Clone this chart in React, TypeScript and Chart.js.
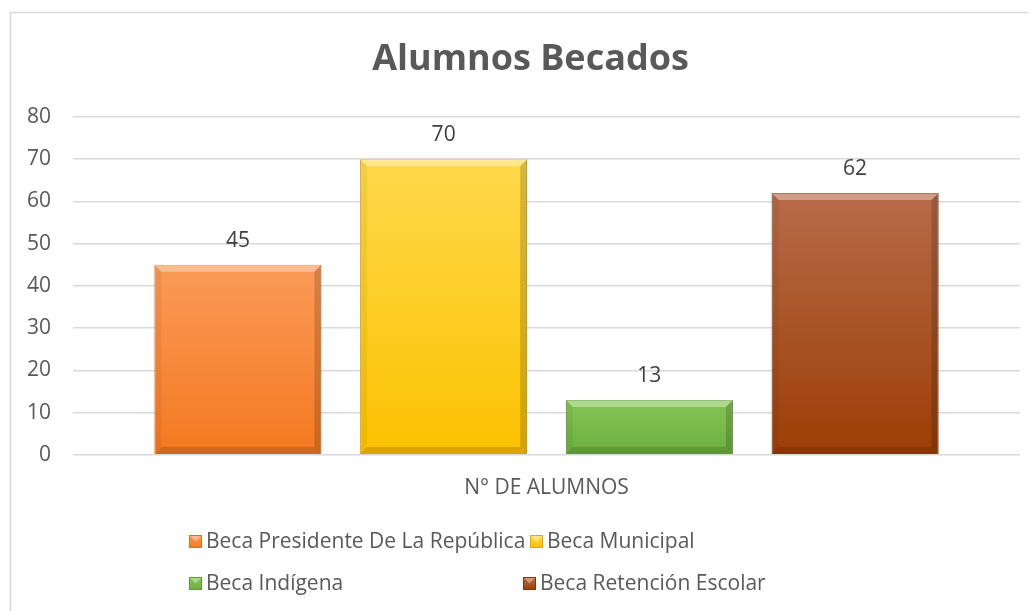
import React, { useEffect, useRef } from 'react';
import { Chart, registerables } from 'chart.js';

Chart.register(...registerables);

const chartTitle = 'Alumnos Becados';
const categories = ['N° DE ALUMNOS'];
const seriesLabels = [
  'Beca Presidente De La República',
  'Beca Municipal',
  'Beca Indígena',
  'Beca Retención Escolar',
];
const seriesValues = [45, 70, 13, 62];
const yMin = 0;
const yMax = 80;
const yStep = 10;

const topColors = ['#FB9A58', '#FFD94C', '#86C555', '#B66B48'];
const bottomColors = ['#F47920', '#FBC200', '#6CAF3E', '#9C3E06'];
const borderColors = ['#E06E1C', '#E0AA00', '#5E9A34', '#86360A'];

const FONT = '"Open Sans", "DejaVu Sans", sans-serif';

const framePlugin = {
  id: 'frame',
  beforeDraw(chart: any) {
    const ctx = chart.ctx;
    ctx.save();
    ctx.fillStyle = '#FFFFFF';
    ctx.fillRect(0, 0, chart.width, chart.height);
    ctx.strokeStyle = '#D9D9D9';
    ctx.lineWidth = 1.5;
    ctx.strokeRect(2.5, 4.5, chart.width + 100, chart.height + 100);
    ctx.restore();
  },
};

const titlePlugin = {
  id: 'customTitle',
  afterDraw(chart: any) {
    const ctx = chart.ctx;
    ctx.save();
    ctx.font = `bold 36px ${FONT}`;
    ctx.fillStyle = '#595959';
    ctx.textAlign = 'center';
    ctx.textBaseline = 'middle';
    ctx.fillText(chartTitle, 522.5, 52);
    ctx.restore();
  },
};

const bevelPlugin = {
  id: 'bevel',
  afterDatasetsDraw(chart: any) {
    const ctx = chart.ctx;
    chart.data.datasets.forEach((_ds: any, di: number) => {
      const meta = chart.getDatasetMeta(di);
      meta.data.forEach((bar: any) => {
        const props = bar.getProps(['x', 'y', 'base', 'width'], true);
        const l = props.x - props.width / 2;
        const r = props.x + props.width / 2;
        const t = Math.min(props.y, props.base);
        const b = Math.max(props.y, props.base);
        const d = Math.min(7, (b - t) / 2);
        ctx.save();
        const poly = (pts: number[][], fill: string) => {
          ctx.beginPath();
          ctx.moveTo(pts[0][0], pts[0][1]);
          for (let i = 1; i < pts.length; i++) ctx.lineTo(pts[i][0], pts[i][1]);
          ctx.closePath();
          ctx.fillStyle = fill;
          ctx.fill();
        };
        poly([[l, t], [r, t], [r - d, t + d], [l + d, t + d]], 'rgba(255,255,255,0.35)');
        poly([[l, t], [l + d, t + d], [l + d, b - d], [l, b]], 'rgba(0,0,0,0.05)');
        poly([[r, t], [r - d, t + d], [r - d, b - d], [r, b]], 'rgba(0,0,0,0.16)');
        poly([[l, b], [l + d, b - d], [r - d, b - d], [r, b]], 'rgba(0,0,0,0.14)');
        ctx.restore();
      });
    });
  },
};

const valueLabelPlugin = {
  id: 'valueLabels',
  afterDatasetsDraw(chart: any) {
    const ctx = chart.ctx;
    ctx.save();
    ctx.font = `21px ${FONT}`;
    ctx.fillStyle = '#404040';
    ctx.textAlign = 'center';
    ctx.textBaseline = 'middle';
    chart.data.datasets.forEach((ds: any, di: number) => {
      const meta = chart.getDatasetMeta(di);
      meta.data.forEach((bar: any, i: number) => {
        const props = bar.getProps(['x', 'y'], true);
        ctx.fillText(String(ds.data[i]), props.x, props.y - 24);
      });
    });
    ctx.restore();
  },
};

const gridLegendPlugin = {
  id: 'gridLegend',
  afterDraw(chart: any) {
    const ctx = chart.ctx;
    const itemX = [181, 522, 181, 515];
    const rowY = [533, 575];
    const box = 13;
    ctx.save();
    ctx.font = `21px ${FONT}`;
    ctx.textBaseline = 'middle';
    ctx.textAlign = 'left';
    chart.data.datasets.forEach((ds: any, i: number) => {
      const y = rowY[Math.floor(i / 2)];
      const bx = itemX[i];
      const by = Math.round(y - box / 2);
      const g = ctx.createLinearGradient(0, by, 0, by + box);
      g.addColorStop(0, topColors[i]);
      g.addColorStop(1, bottomColors[i]);
      ctx.fillStyle = g;
      ctx.fillRect(bx, by, box, box);
      ctx.fillStyle = 'rgba(255,255,255,0.35)';
      ctx.beginPath();
      ctx.moveTo(bx, by);
      ctx.lineTo(bx + box, by);
      ctx.lineTo(bx + box / 2, by + box / 2);
      ctx.closePath();
      ctx.fill();
      ctx.strokeStyle = borderColors[i];
      ctx.lineWidth = 1;
      ctx.strokeRect(bx + 0.5, by + 0.5, box - 1, box - 1);
      ctx.fillStyle = '#595959';
      ctx.fillText(ds.label, bx + box + 4, y + 1);
    });
    ctx.restore();
  },
};

export default function App() {
  const canvasRef = useRef<HTMLCanvasElement | null>(null);

  useEffect(() => {
    if (!canvasRef.current) return;
    const makeGradient = (i: number) => (context: any) => {
      const chart = context.chart;
      const area = chart.chartArea;
      const yScale = chart.scales && chart.scales.y;
      if (!area || !yScale) return bottomColors[i];
      const v = seriesValues[i];
      const top = yScale.getPixelForValue(v);
      const base = yScale.getPixelForValue(0);
      const g = chart.ctx.createLinearGradient(0, top, 0, base);
      g.addColorStop(0, topColors[i]);
      g.addColorStop(1, bottomColors[i]);
      return g;
    };

    const chart = new Chart(canvasRef.current, {
      type: 'bar',
      data: {
        labels: categories,
        datasets: seriesLabels.map((label, i) => ({
          label,
          data: [seriesValues[i]],
          backgroundColor: makeGradient(i),
          borderColor: borderColors[i],
          borderWidth: 1,
          categoryPercentage: 0.869,
          barPercentage: 0.812,
        })),
      },
      options: {
        responsive: false,
        animation: false,
        layout: {
          padding: { left: 15, right: 16, top: 109, bottom: 89 },
        },
        plugins: {
          legend: { display: false },
          tooltip: { enabled: false },
          title: { display: false },
        },
        scales: {
          x: {
            grid: { display: false, drawTicks: false },
            border: { display: false },
            ticks: {
              color: '#595959',
              font: { family: FONT, size: 21 },
              padding: 21,
            },
          },
          y: {
            min: yMin,
            max: yMax,
            grid: { color: '#D9D9D9', lineWidth: 1.5, drawTicks: false },
            border: { display: false },
            ticks: {
              stepSize: yStep,
              color: '#595959',
              font: { family: FONT, size: 21 },
              padding: 22,
            },
            afterFit(scale: any) {
              scale.width = 50;
            },
          },
        },
      },
      plugins: [framePlugin, bevelPlugin, valueLabelPlugin, gridLegendPlugin, titlePlugin],
    } as any);

    return () => chart.destroy();
  }, []);

  return (
    <div style={{ width: 1028, height: 603 }}>
      <canvas ref={canvasRef} width={1028} height={603} style={{ display: 'block' }} />
    </div>
  );
}
